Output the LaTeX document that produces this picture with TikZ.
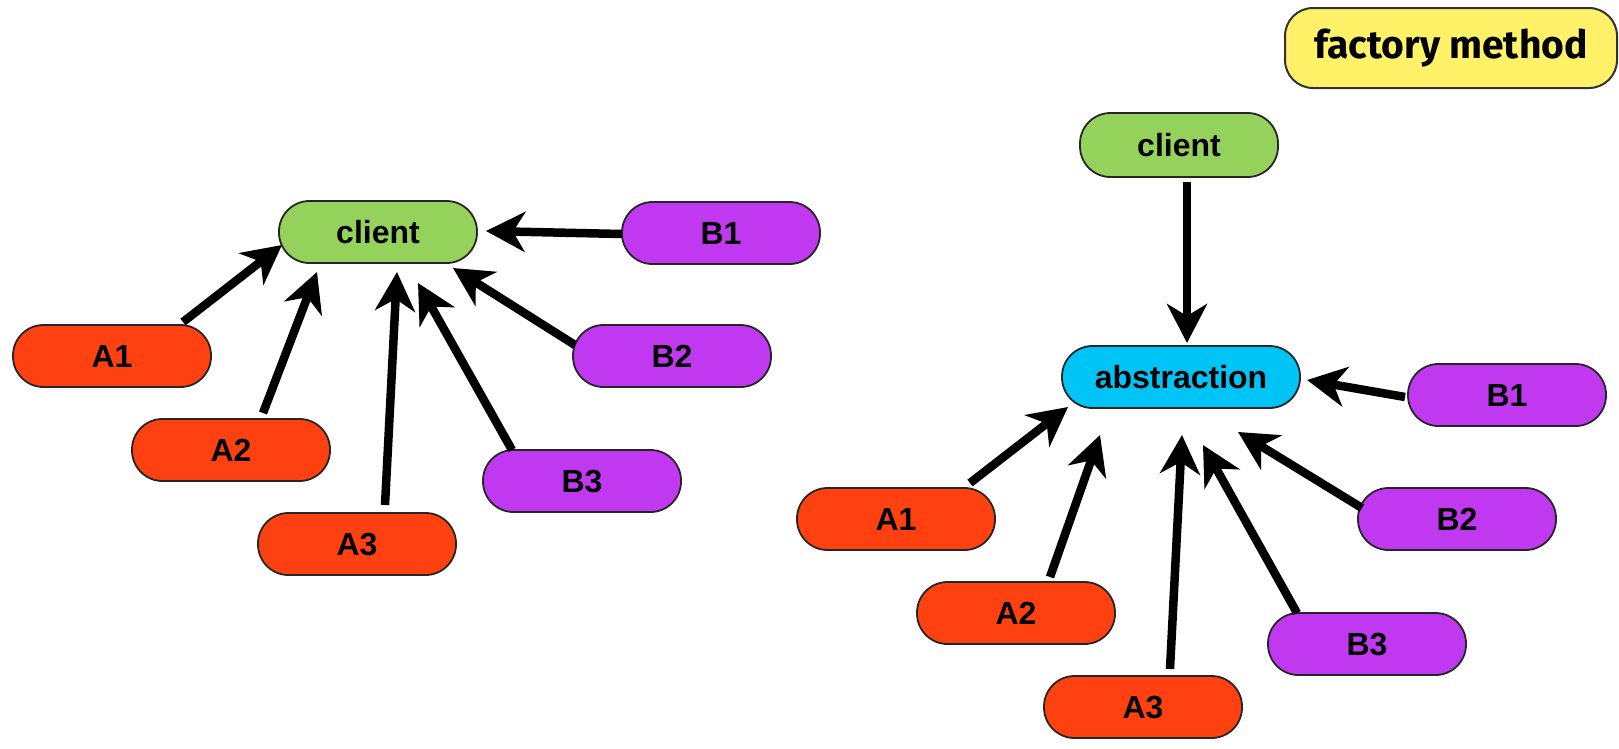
\documentclass[tikz,border=0pt]{standalone}
\usepackage{fontspec}
\setmainfont{Liberation Sans}
\newfontfamily\titlefont{Fira Sans}
\usetikzlibrary{arrows.meta}

\definecolor{clientgreen}{RGB}{148,210,92}
\definecolor{aorange}{RGB}{255,64,16}
\definecolor{bpurple}{RGB}{192,57,240}
\definecolor{abscyan}{RGB}{0,196,246}
\definecolor{noteyellow}{RGB}{255,242,104}

\tikzset{
  pill/.style={draw=black!85, line width=1.8pt, rounded corners=30.5pt,
    minimum width=198pt, minimum height=62pt, inner sep=0pt,
    font=\fontsize{32}{37}\selectfont\bfseries, text=black},
  cnode/.style={pill, fill=clientgreen},
  anode/.style={pill, fill=aorange},
  bnode/.style={pill, fill=bpurple},
  absnode/.style={pill, fill=abscyan, minimum width=238pt},
  notebox/.style={draw=black!80, line width=2pt, rounded corners=28pt,
    fill=noteyellow, minimum width=332pt, minimum height=80pt, inner sep=0pt,
    font=\titlefont\fontsize{39}{45}\selectfont\bfseries},
  arr/.style={line width=8.5pt, line cap=butt,
    -{Stealth[length=39pt, width=40pt, inset=12pt]}}
}

\begin{document}
\begin{tikzpicture}[x=1pt, y=-1pt]
  \useasboundingbox (0,0) rectangle (1619,748);

  % ---- direct coupling: client depends on every product ----
  \node[cnode] (clientL) at (378,232) {client};
  \node[bnode] (B1L) at (721,233) {B1};
  \node[anode] (A1L) at (112,356) {A1};
  \node[bnode] (B2L) at (672,356) {B2};
  \node[anode] (A2L) at (231,450) {A2};
  \node[bnode] (B3L) at (582,481) {B3};
  \node[anode] (A3L) at (357,544) {A3};

  \draw[arr] ([shift={(71,-34)}]A1L.center) -- ([shift={(-96,13)}]clientL.center);
  \draw[arr] ([shift={(32,-37)}]A2L.center) -- ([shift={(-61,40)}]clientL.center);
  \draw[arr] ([shift={(28,-39)}]A3L.center) -- ([shift={(19,40)}]clientL.center);
  \draw[arr] ([shift={(-70,-31)}]B3L.center) -- ([shift={(40,51)}]clientL.center);
  \draw[arr] ([shift={(-97,-11)}]B2L.center) -- ([shift={(75,36)}]clientL.center);
  \draw[arr] ([shift={(-99,1)}]B1L.center) -- ([shift={(108,-1)}]clientL.center);

  % ---- factory method: client depends on an abstraction ----
  \node[notebox] (fm) at (1451,48) {factory method};
  \node[cnode, minimum height=64pt] (clientR) at (1179,145) {client};
  \node[absnode] (abs) at (1181,377) {abstraction};
  \node[bnode] (B1R) at (1507,395) {B1};
  \node[anode] (A1R) at (896,519) {A1};
  \node[bnode] (B2R) at (1457,519) {B2};
  \node[anode] (A2R) at (1016,613) {A2};
  \node[bnode] (B3R) at (1367,644) {B3};
  \node[anode] (A3R) at (1143,707) {A3};

  \draw[arr] ([shift={(8,37)}]clientR.center) -- ([shift={(6,-34)}]abs.center);
  \draw[arr] ([shift={(74,-36)}]A1R.center) -- ([shift={(-113,30)}]abs.center);
  \draw[arr] ([shift={(34,-36)}]A2R.center) -- ([shift={(-81,58)}]abs.center);
  \draw[arr] ([shift={(27,-38)}]A3R.center) -- ([shift={(1,58)}]abs.center);
  \draw[arr] ([shift={(-70,-31)}]B3R.center) -- ([shift={(22,68)}]abs.center);
  \draw[arr] ([shift={(-95,-11)}]B2R.center) -- ([shift={(57,55)}]abs.center);
  \draw[arr] ([shift={(-102,2)}]B1R.center) -- ([shift={(126,3)}]abs.center);
\end{tikzpicture}
\end{document}
